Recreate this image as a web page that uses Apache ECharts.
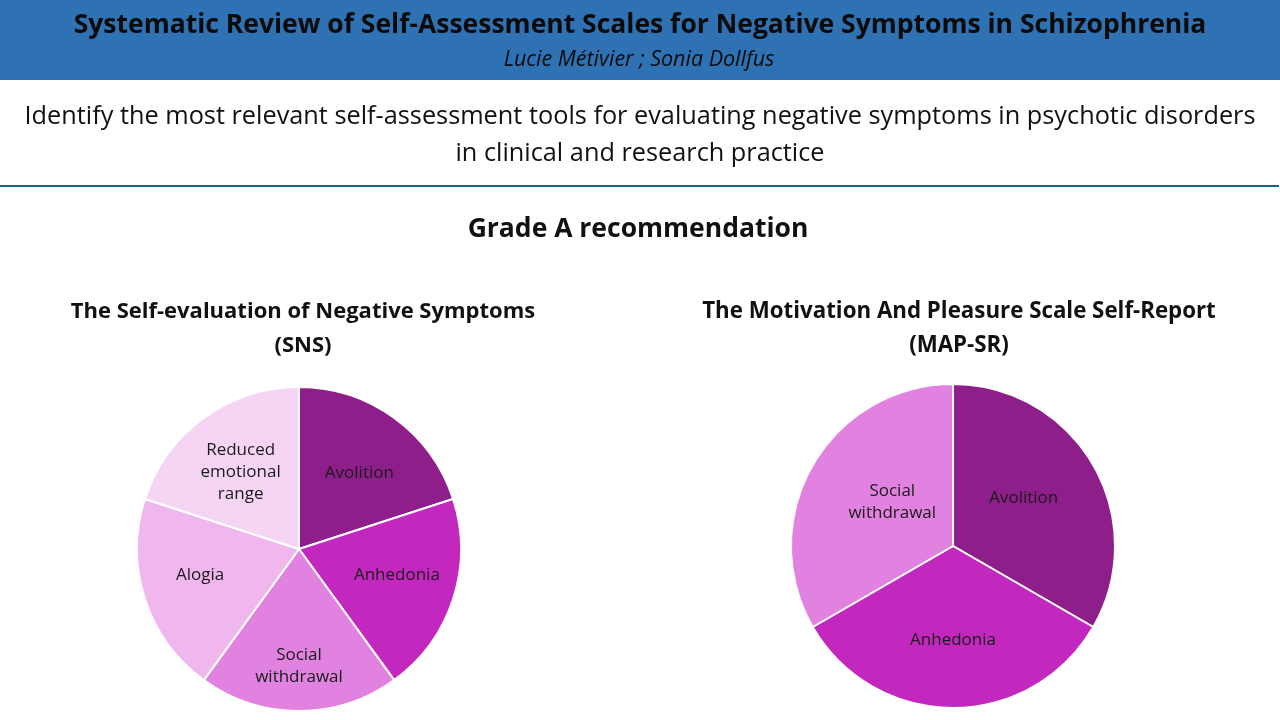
<!DOCTYPE html>
<html><head><meta charset="utf-8">
<script src="https://cdn.jsdelivr.net/npm/echarts@6/dist/echarts.min.js"></script>
<style>html,body{margin:0;padding:0;background:#fff;}#c{width:1280px;height:720px;}</style>
</head><body><div id="c"></div>
<script>
const mainTitle = 'Systematic Review of Self-Assessment Scales for Negative Symptoms in Schizophrenia';
const authors = 'Lucie Métivier ; Sonia Dollfus';
const objective = ['Identify the most relevant self-assessment tools for evaluating negative symptoms in psychotic disorders', 'in clinical and research practice'];
const sectionTitle = 'Grade A recommendation';
const snsTitle = 'The Self-evaluation of Negative Symptoms\n(SNS)';
const mapTitle = 'The Motivation And Pleasure Scale Self-Report\n(MAP-SR)';
const snsCategories = ['Avolition', 'Anhedonia', 'Social\nwithdrawal', 'Alogia', 'Reduced\nemotional\nrange'];
const snsValues = [1, 1, 1, 1, 1];
const mapCategories = ['Avolition', 'Anhedonia', 'Social\nwithdrawal'];
const mapValues = [1, 1, 1];
const snsColors = ['#8E1E8A', '#C228BE', '#E182E0', '#F0B6EE', '#F6D5F4'];
const mapColors = ['#8E1E8A', '#C228BE', '#E182E0'];

const FONT = 'Open Sans';
const chart = echarts.init(document.getElementById('c'));

function pieData(cats, vals, colors) {
  return cats.map((c, i) => ({ name: c, value: vals[i], itemStyle: { color: colors[i] } }));
}
// label nudges (layout only)
const snsNudge = [[11, -8], [18, 0], [0, 33], [-19, 0], [-9, -9]];
const mapNudge = [[-2, -6], [0, 10], [12, -2]];

const option = {
  animation: false,
  textStyle: { fontFamily: FONT },
  graphic: [
    { type: 'rect', shape: { x: 0, y: 0, width: 1280, height: 80 }, style: { fill: '#2E72B4' }, z: 0 },
    { type: 'text', x: 640, y: 25, style: { text: mainTitle, font: 'bold 26.5px "' + FONT + '"', fill: '#0a0a0a', textAlign: 'center', textVerticalAlign: 'middle' } },
    { type: 'text', x: 639, y: 60, style: { text: authors, font: 'italic 21.5px "' + FONT + '"', fill: '#0a0a0a', textAlign: 'center', textVerticalAlign: 'middle' } },
    { type: 'text', x: 640, y: 117, style: { text: objective[0], font: '25.3px "' + FONT + '"', fill: '#111', textAlign: 'center', textVerticalAlign: 'middle' } },
    { type: 'text', x: 640, y: 154, style: { text: objective[1], font: '25.3px "' + FONT + '"', fill: '#111', textAlign: 'center', textVerticalAlign: 'middle' } },
    { type: 'rect', shape: { x: 0, y: 185, width: 1279, height: 2 }, style: { fill: '#1F5F7F' } },
    { type: 'text', x: 638, y: 229, style: { text: sectionTitle, font: 'bold 26.5px "' + FONT + '"', fill: '#111', textAlign: 'center', textVerticalAlign: 'middle' } },
    { type: 'text', x: 303, y: 329, style: { text: snsTitle, font: 'bold 22px "' + FONT + '"', lineHeight: 34, fill: '#111', textAlign: 'center', textVerticalAlign: 'middle' } },
    { type: 'text', x: 959, y: 329, style: { text: mapTitle, font: 'bold 22.3px "' + FONT + '"', lineHeight: 34, fill: '#111', textAlign: 'center', textVerticalAlign: 'middle' } }
  ],
  series: [
    {
      type: 'pie', center: [299, 549], radius: [0, 162], startAngle: 90, clockwise: true,
      silent: true,
      itemStyle: { borderColor: '#fff', borderWidth: 2 },
      label: { show: true, position: 'inside', color: '#1a1a1a', fontSize: 17, fontFamily: FONT, lineHeight: 22 },
      labelLine: { show: false },
      labelLayout: p => ({ dx: snsNudge[p.dataIndex][0], dy: snsNudge[p.dataIndex][1] }),
      data: pieData(snsCategories, snsValues, snsColors)
    },
    {
      type: 'pie', center: [953, 546], radius: [0, 162], startAngle: 90, clockwise: true,
      silent: true,
      itemStyle: { borderColor: '#fff', borderWidth: 2 },
      label: { show: true, position: 'inside', color: '#1a1a1a', fontSize: 17, fontFamily: FONT, lineHeight: 22 },
      labelLine: { show: false },
      labelLayout: p => ({ dx: mapNudge[p.dataIndex][0], dy: mapNudge[p.dataIndex][1] }),
      data: pieData(mapCategories, mapValues, mapColors)
    }
  ]
};
chart.setOption(option);
</script></body></html>
